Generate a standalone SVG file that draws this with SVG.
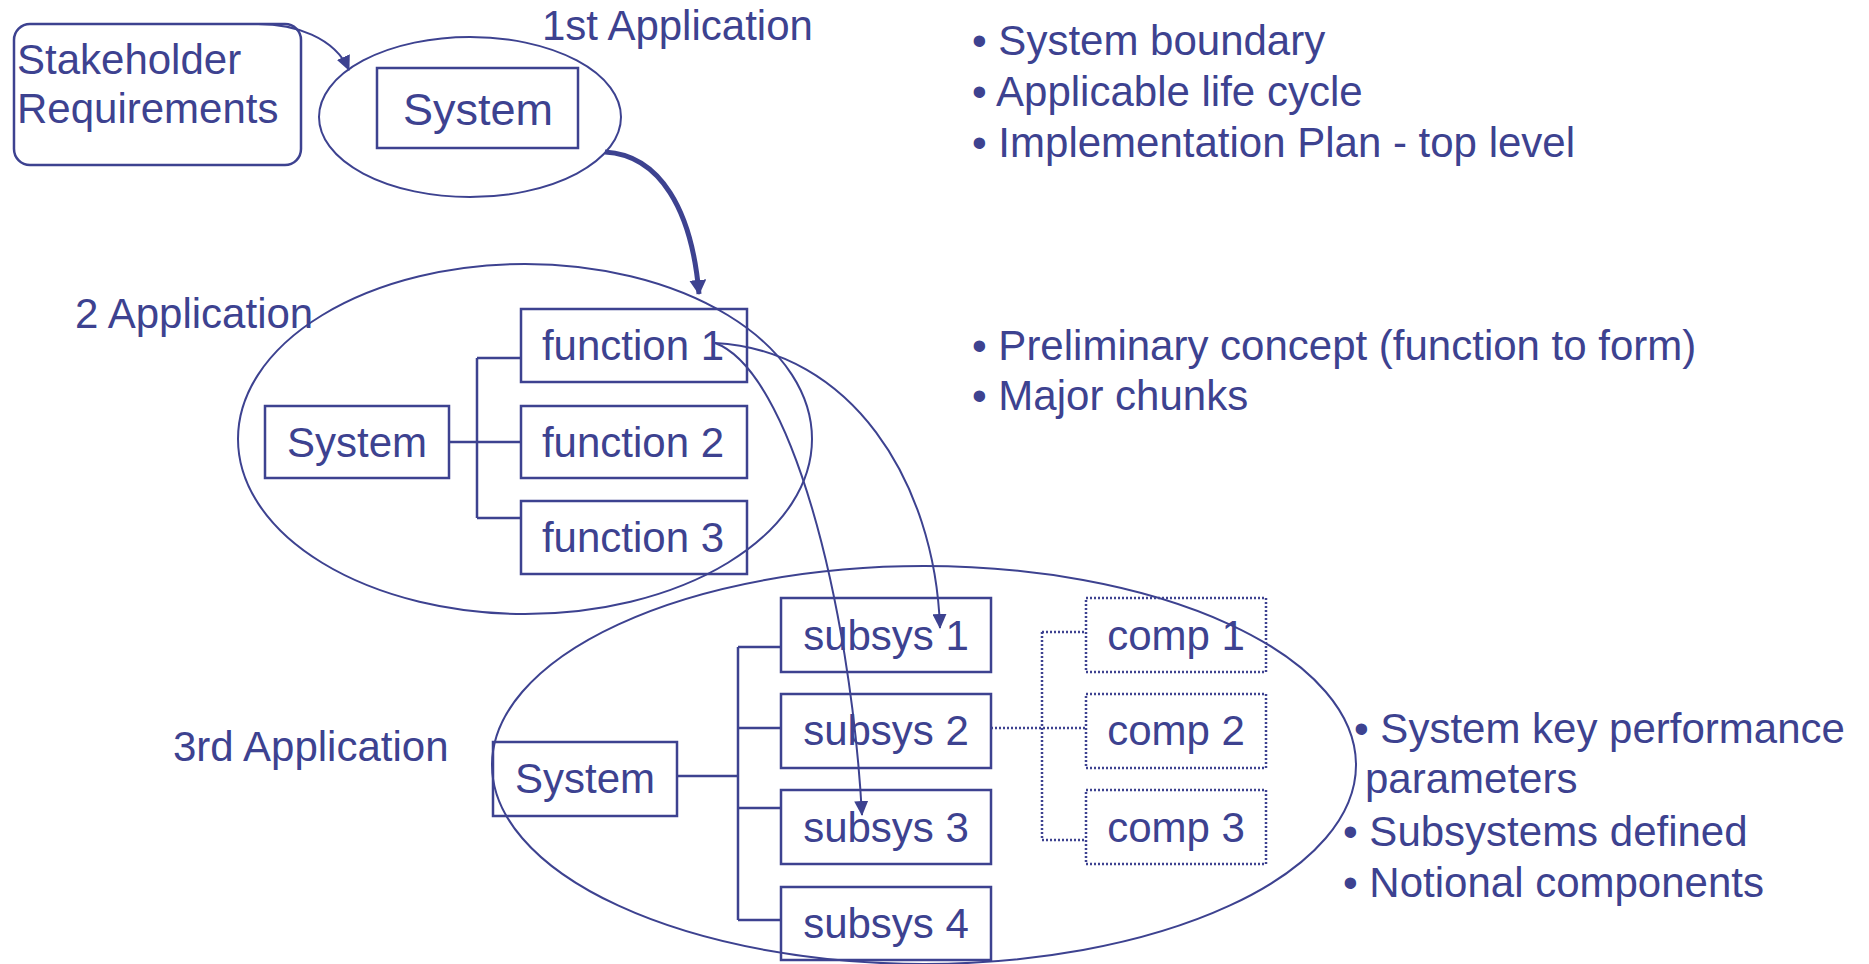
<svg xmlns="http://www.w3.org/2000/svg" width="1869" height="964" viewBox="0 0 1869 964">
<style>
text{font-family:"Liberation Sans",Arial,sans-serif;font-size:42px;fill:#3d4290}
.c{text-anchor:middle}
.box{fill:none;stroke:#3d4290;stroke-width:2.5}
.dbox{fill:none;stroke:#3d4290;stroke-width:2.5;stroke-dasharray:2 2}
.ell{fill:none;stroke:#3d4290;stroke-width:2}
.ln{fill:none;stroke:#3d4290;stroke-width:2.5}
.dln{fill:none;stroke:#3d4290;stroke-width:2.5;stroke-dasharray:2 2}
.arr{fill:none;stroke:#3d4290;stroke-width:2;marker-end:url(#ah)}
.tarr{fill:none;stroke:#3d4290;stroke-width:5;marker-end:url(#ahb)}
</style>
<defs>
<marker id="ah" markerUnits="userSpaceOnUse" viewBox="0 0 15 14" refX="14" refY="7" markerWidth="15" markerHeight="14" orient="auto"><path d="M0 0 L15 7 L0 14 Z" fill="#3d4290"/></marker>
<marker id="ahb" markerUnits="userSpaceOnUse" viewBox="0 0 15 17" refX="14" refY="8.5" markerWidth="15" markerHeight="17" orient="auto"><path d="M0 0 L15 8.5 L0 17 Z" fill="#3d4290"/></marker>
</defs>
<rect width="1869" height="964" fill="#fff"/>

<g id="labels">
<text x="542" y="40">1st Application</text>
<text x="75" y="328">2 Application</text>
<text x="173" y="761">3rd Application</text>
</g>

<g id="ellipses">
<ellipse id="app1" class="ell" cx="470" cy="117" rx="151" ry="80"/>
<ellipse id="app2" class="ell" cx="525" cy="439" rx="287" ry="175"/>
<ellipse id="app3" class="ell" cx="924" cy="765" rx="432" ry="199"/>
</g>

<g id="stakeholder">
<rect class="box" x="14" y="24" width="287" height="141" rx="16"/>
<text x="17" y="74">Stakeholder</text>
<text x="17" y="123">Requirements</text>
</g>

<g id="system1"><rect class="box" x="377" y="68" width="201" height="80"/><text class="c" x="478" y="125" style="font-size:45px">System</text></g>

<g id="system2"><rect class="box" x="265" y="406" width="184" height="72"/><text class="c" x="357" y="457">System</text></g>
<g id="function1"><rect class="box" x="521" y="309" width="226" height="73"/><text class="c" x="633" y="360">function 1</text></g>
<g id="function2"><rect class="box" x="521" y="406" width="226" height="72"/><text class="c" x="633" y="457">function 2</text></g>
<g id="function3"><rect class="box" x="521" y="501" width="226" height="73"/><text class="c" x="633" y="552">function 3</text></g>

<g id="system3"><rect class="box" x="493" y="742" width="184" height="74"/><text class="c" x="585" y="793">System</text></g>
<g id="subsys1"><rect class="box" x="781" y="598" width="210" height="74"/><text class="c" x="886" y="650">subsys 1</text></g>
<g id="subsys2"><rect class="box" x="781" y="694" width="210" height="74"/><text class="c" x="886" y="745">subsys 2</text></g>
<g id="subsys3"><rect class="box" x="781" y="790" width="210" height="74"/><text class="c" x="886" y="842">subsys 3</text></g>
<g id="subsys4"><rect class="box" x="781" y="887" width="210" height="73"/><text class="c" x="886" y="938">subsys 4</text></g>

<g id="comp1"><rect class="dbox" x="1086" y="598" width="180" height="74"/><text class="c" x="1176" y="650">comp 1</text></g>
<g id="comp2"><rect class="dbox" x="1086" y="694" width="180" height="74"/><text class="c" x="1176" y="745">comp 2</text></g>
<g id="comp3"><rect class="dbox" x="1086" y="790" width="180" height="74"/><text class="c" x="1176" y="842">comp 3</text></g>

<g id="connectors">
<path class="ln" d="M449 442 H521 M477 358 V518 M477 358 H521 M477 518 H521"/>
<path class="ln" d="M677 776 H738 M738 647 V920 M738 647 H781 M738 728 H781 M738 808 H781 M738 920 H781"/>
<path class="dln" d="M991 728 H1086 M1042 632 V840 M1042 632 H1086 M1042 840 H1086"/>
<path class="arr" d="M254 24 C295 23 335 38 349 70"/>
<path class="tarr" d="M605 152 C660 155 692 210 699 294"/>
<path class="arr" d="M715 343 C850 350 935 480 940 628"/>
<path class="arr" d="M715 343 C790 370 850 600 862 815"/>
</g>

<g id="notes">
<text x="972" y="55">• System boundary</text>
<text x="972" y="106">• Applicable life cycle</text>
<text x="972" y="157">• Implementation Plan - top level</text>
<text x="972" y="360">• Preliminary concept (function to form)</text>
<text x="972" y="410">• Major chunks</text>
<text x="1354" y="743">• System key performance</text>
<text x="1365" y="793">parameters</text>
<text x="1343" y="846">• Subsystems defined</text>
<text x="1343" y="897">• Notional components</text>
</g>
</svg>
